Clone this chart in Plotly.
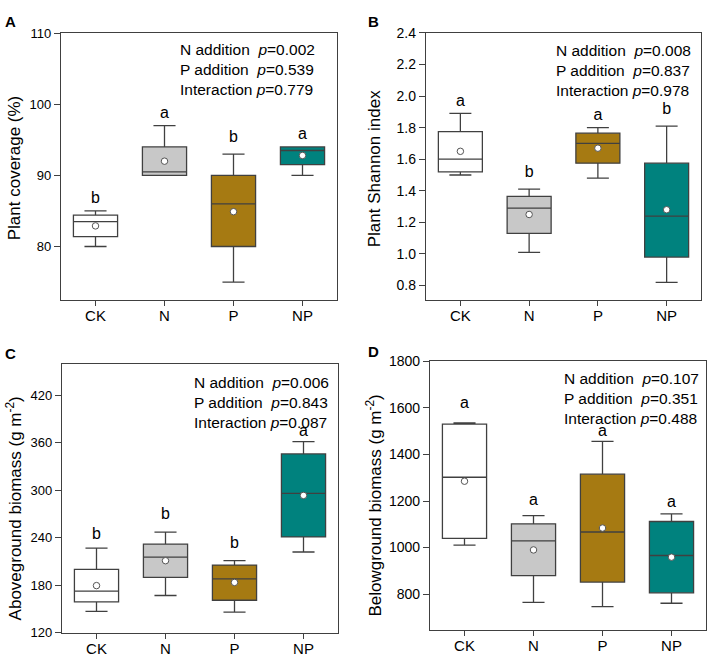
import plotly.graph_objects as go

W, H = 708, 662
FONT = "Liberation Sans, Arial, sans-serif"
DARK = "#404040"

groups = ["CK", "N", "P", "NP"]
fills = ["#ffffff", "#c8c8c8", "#a67a12", "#00827e"]

# A: plant coverage (%)
cover_low = [80, 90, 75, 90]
cover_q1 = [81.4, 90, 80, 91.5]
cover_med = [83.5, 90.5, 86, 93.5]
cover_q3 = [84.4, 94, 90, 94]
cover_high = [85, 97, 93, 94]
cover_mean = [82.9, 92, 84.9, 92.8]
cover_letters = ["b", "a", "b", "a"]
cover_letter_y = [86.7, 98.6, 95.3, 95.7]
cover_p = ["0.002", "0.539", "0.779"]

# B: plant Shannon index
shannon_low = [1.50, 1.01, 1.48, 0.82]
shannon_q1 = [1.52, 1.13, 1.575, 0.98]
shannon_med = [1.60, 1.29, 1.70, 1.24]
shannon_q3 = [1.775, 1.365, 1.765, 1.575]
shannon_high = [1.89, 1.41, 1.80, 1.81]
shannon_mean = [1.65, 1.25, 1.67, 1.28]
shannon_letters = ["a", "b", "a", "b"]
shannon_letter_y = [1.965, 1.51, 1.876, 1.913]
shannon_p = ["0.008", "0.837", "0.978"]

# C: aboveground biomass
above_low = [147, 167, 146, 222]
above_q1 = [159, 190, 161, 241]
above_med = [172.5, 215.5, 188, 296]
above_q3 = [200, 232, 205.5, 346]
above_high = [227, 247, 211, 361.5]
above_mean = [179.5, 211, 183.5, 293.5]
above_letters = ["b", "b", "b", "a"]
above_letter_y = [244, 269, 231.7, 373.7]
above_p = ["0.006", "0.843", "0.087"]

# D: belowground biomass
below_low = [1011, 765, 747, 761]
below_q1 = [1040, 880, 852, 806]
below_med = [1302, 1029, 1067, 966]
below_q3 = [1530, 1102, 1315, 1112]
below_high = [1535, 1137, 1456, 1145]
below_mean = [1285, 990, 1084, 959]
below_letters = ["a", "a", "a", "a"]
below_letter_y = [1617, 1201, 1498, 1190]
below_p = ["0.107", "0.351", "0.488"]


def fx(px):
    return px / W


def fy(px):
    return 1 - px / H


panels = [
    dict(name="A", title="Plant coverage (%)", low=cover_low, q1=cover_q1, med=cover_med,
         q3=cover_q3, high=cover_high, mean=cover_mean, let=cover_letters, lety=cover_letter_y,
         p=cover_p, rng=[72.45, 110.03], tick0=80, dtick=10, fmt="", tsize=13,
         box=(61, 337, 25.5, 299), tx=14, ty=164, lx=3, ly=14, px=178, py=63),
    dict(name="B", title="Plant Shannon index", low=shannon_low, q1=shannon_q1, med=shannon_med,
         q3=shannon_q3, high=shannon_high, mean=shannon_mean, let=shannon_letters,
         lety=shannon_letter_y, p=shannon_p, rng=[0.707, 2.401], tick0=0.8, dtick=0.2,
         fmt=".1f", tsize=14, box=(426, 701, 25.3, 299), tx=374, ty=165, lx=366, ly=14,
         px=554, py=64),
    dict(name="C", title="Aboveground biomass (g m<sup>-2</sup>)", low=above_low, q1=above_q1,
         med=above_med, q3=above_q3, high=above_high, mean=above_mean, let=above_letters,
         lety=above_letter_y, p=above_p, rng=[119.8, 460], tick0=120, dtick=60, fmt="",
         tsize=13, box=(62, 338, 364, 639.3), tx=14, ty=512, lx=3, ly=353, px=192, py=404),
    dict(name="D", title="Belowground biomass (g m<sup>-2</sup>)", low=below_low, q1=below_q1,
         med=below_med, q3=below_q3, high=below_high, mean=below_mean, let=below_letters,
         lety=below_letter_y, p=below_p, rng=[648, 1800.6], tick0=800, dtick=200, fmt="",
         tsize=14, box=(430, 706, 361.3, 636), tx=374, ty=509, lx=366, ly=351, px=562, py=400),
]

fig = go.Figure()
annotations = []

for i, pn in enumerate(panels):
    k = "" if i == 0 else str(i + 1)
    xa, ya = "x" + k, "y" + k
    for j, g in enumerate(groups):
        fig.add_trace(go.Box(
            x=[g], q1=[pn["q1"][j]], median=[pn["med"][j]], q3=[pn["q3"][j]],
            lowerfence=[pn["low"][j]], upperfence=[pn["high"][j]],
            width=0.64, whiskerwidth=0.5, fillcolor=fills[j],
            line=dict(color=DARK, width=1.3), boxpoints=False,
            xaxis=xa, yaxis=ya, showlegend=False, hoverinfo="skip"))
    fig.add_trace(go.Scatter(
        x=groups, y=pn["mean"], mode="markers",
        marker=dict(color="white", size=6.5, line=dict(color="#555555", width=1)),
        xaxis=xa, yaxis=ya, showlegend=False))
    fig.add_trace(go.Scatter(
        x=groups, y=pn["lety"], mode="text", text=pn["let"],
        textfont=dict(family=FONT, size=16, color="black"),
        xaxis=xa, yaxis=ya, showlegend=False))

    x0, x1, y0, y1 = pn["box"]
    fig.layout["xaxis" + k] = dict(
        domain=[fx(x0), fx(x1)], anchor=ya, type="category",
        categoryorder="array", categoryarray=groups, range=[-0.5, 3.5],
        showline=True, linecolor=DARK, linewidth=1.3, mirror=True,
        ticks="outside", ticklen=5, tickcolor=DARK, tickwidth=1.3, ticklabelstandoff=-3,
        tickfont=dict(family=FONT, size=15, color="black"), showgrid=False, zeroline=False)
    fig.layout["yaxis" + k] = dict(
        domain=[fy(y1), fy(y0)], anchor=xa, range=pn["rng"],
        tick0=pn["tick0"], dtick=pn["dtick"], tickformat=pn["fmt"],
        showline=True, linecolor=DARK, linewidth=1.3, mirror=True,
        ticks="outside", ticklen=6, tickcolor=DARK, tickwidth=1.3,
        tickfont=dict(family=FONT, size=pn["tsize"], color="black"),
        showgrid=False, zeroline=False)

    annotations.append(dict(
        x=fx(pn["tx"]), y=fy(pn["ty"]), xref="paper", yref="paper", text=pn["title"],
        textangle=-90, showarrow=False, xanchor="center", yanchor="middle",
        font=dict(family=FONT, size=17, color="black")))
    annotations.append(dict(
        x=fx(pn["lx"]), y=fy(pn["ly"]), xref="paper", yref="paper",
        text="<b>" + pn["name"] + "</b>", showarrow=False, xanchor="left", yanchor="middle",
        font=dict(family=FONT, size=15, color="black")))
    ptext = ("N addition&nbsp; <i>p</i>=" + pn["p"][0] + "<br>"
             "P addition&nbsp; <i>p</i>=" + pn["p"][1] + "<br>"
             "Interaction <i>p</i>=" + pn["p"][2])
    annotations.append(dict(
        x=fx(pn["px"]), y=fy(pn["py"]), xref="paper", yref="paper", text=ptext,
        showarrow=False, xanchor="left", yanchor="middle", align="left",
        font=dict(family=FONT, size=15.5, color="black")))

fig.update_layout(
    width=W, height=H, margin=dict(l=0, r=0, t=0, b=0),
    paper_bgcolor="white", plot_bgcolor="white", boxmode="overlay",
    annotations=annotations)

# drop the browser's default body margin so the 708x662 figure fills the window
fig.write_html("out.html", config={"displayModeBar": False},
               post_script="document.body.style.margin='0';")
